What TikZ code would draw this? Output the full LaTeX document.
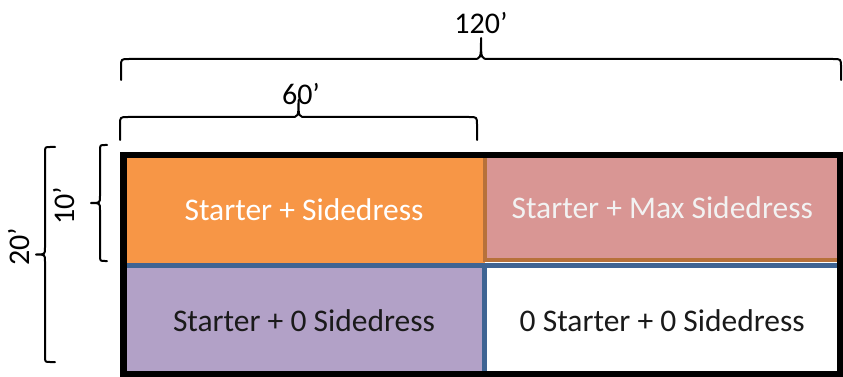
\documentclass[tikz,border=0pt]{standalone}
\usepackage{fontspec}
\setmainfont{Carlito}
\definecolor{orng}{HTML}{F79646}
\definecolor{pnk}{HTML}{D99694}
\definecolor{prpl}{HTML}{B2A1C7}
\definecolor{brwn}{HTML}{B7713A}
\definecolor{blu}{HTML}{3F6493}
\definecolor{dtxt}{HTML}{1A1A1A}
\newcommand\mybraceH[5]{%
  \draw[bracestyle] (#1,#4) -- (#1,#3+8) .. controls (#1,#3) .. (#1+8,#3)
    -- ({(#1+#2)/2-8},#3) .. controls ({(#1+#2)/2},#3) .. ({(#1+#2)/2},#5)
    .. controls ({(#1+#2)/2},#3) .. ({(#1+#2)/2+8},#3)
    -- (#2-8,#3) .. controls (#2,#3) .. (#2,#3+8) -- (#2,#4);}
\newcommand\mybraceV[5]{%
  \draw[bracestyle] (#4,#1) -- (#3+5,#1) .. controls (#3,#1) .. (#3,#1+6)
    -- (#3,{(#1+#2)/2-7}) .. controls (#3,{(#1+#2)/2}) .. (#5,{(#1+#2)/2})
    .. controls (#3,{(#1+#2)/2}) .. (#3,{(#1+#2)/2+7})
    -- (#3,#2-6) .. controls (#3,#2) .. (#3+5,#2) -- (#4,#2);}
\begin{document}
\begin{tikzpicture}[x=1pt,y=-1pt,
  cell/.style={rectangle, inner sep=0pt, outer sep=0pt, font=\fontsize{31.5}{36}\selectfont},
  dimlabel/.style={inner sep=0pt, font=\fontsize{30}{34}\selectfont, text=black},
  bracestyle/.style={line width=2pt, line cap=round, line join=round, black}]
\useasboundingbox (0,0) rectangle (843,377);
\fill[white] (0,0) rectangle (843,377);
% cells
\node[cell, fill=orng, minimum width=361pt, minimum height=110pt, text=white] (os) at (304,210) {Starter + Sidedress};
\node[cell, fill=pnk, draw=brwn, line width=4pt, minimum width=355.5pt, minimum height=105pt, text=white!95!black] (pm) at (662.25,207.5) {Starter + Max Sidedress};
\node[cell, fill=prpl, draw=blu, line width=5pt, minimum width=361pt, minimum height=109.5pt, text=dtxt] (pz) at (304,320.5) {Starter + 0 Sidedress};
\node[cell, fill=white, draw=blu, line width=5pt, minimum width=355.5pt, minimum height=109.5pt, text=dtxt] (wz) at (662.25,320.5) {0 Starter + 0 Sidedress};
% outer frame
\draw[line width=6.5pt, black] (123.5,155) rectangle (840,374.5);
% braces
\mybraceH{121}{841}{59}{80}{38}
\mybraceH{120}{477}{117}{140}{100}
\mybraceV{147}{362}{45}{55}{36}
\mybraceV{145}{261}{100}{107}{91}
% labels
\node[dimlabel] (l120) at (481,23) {120’};
\node[dimlabel] (l60) at (301,94) {60’};
\node[dimlabel, rotate=90] (l20) at (19,247) {20’};
\node[dimlabel, rotate=90] (l10) at (64,206) {10’};
\end{tikzpicture}
\end{document}
